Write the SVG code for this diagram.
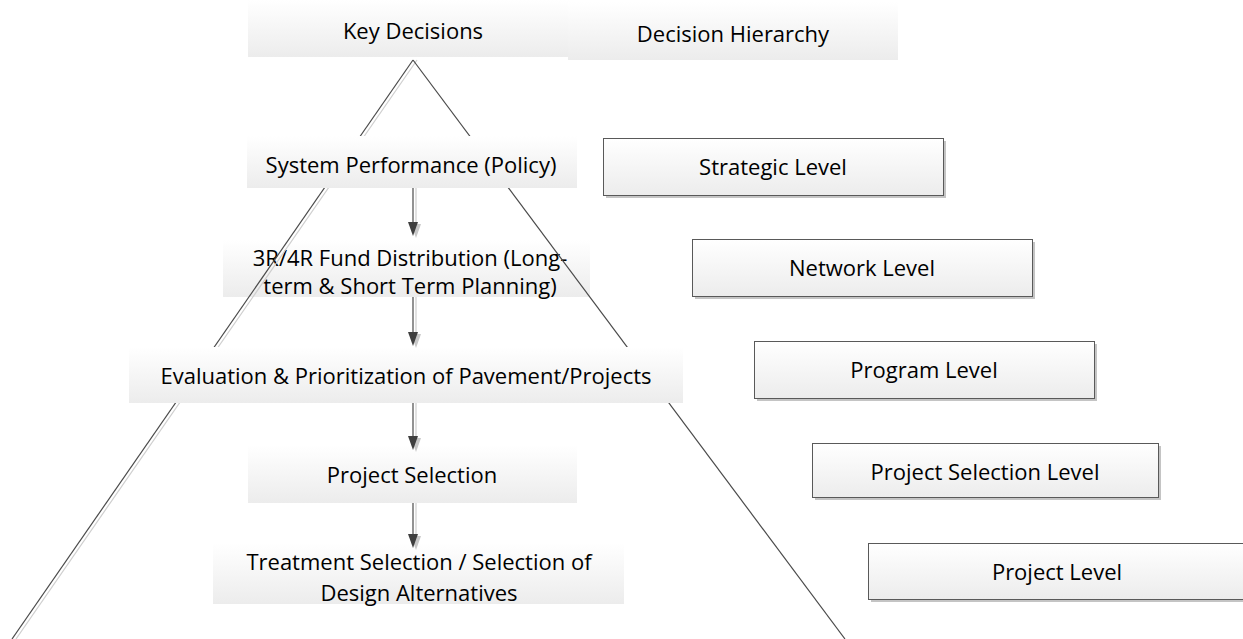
<svg xmlns="http://www.w3.org/2000/svg" width="1243" height="639" viewBox="0 0 1243 639">
<defs>
<linearGradient id="g" x1="0" y1="0" x2="0" y2="1">
<stop offset="0" stop-color="#ffffff"/>
<stop offset="1" stop-color="#ececec"/>
</linearGradient>
</defs>
<style>
.pb{fill:url(#g);stroke:none}
.lb{fill:url(#g);stroke:#595959;stroke-width:1}
.sh{fill:#c4c4c4;stroke:none}
.t{font-family:"Open Sans","Liberation Sans",sans-serif;font-size:22px;fill:#000;text-anchor:middle}
.ln{stroke:#4a4a4a;stroke-width:1.2;fill:none}
.lns{stroke:#cfcfcf;stroke-width:1.2;fill:none}
.ah{fill:#3f3f3f}
.ahs{fill:#c8c8c8}
</style>
<g id="key-decisions"><rect class="pb" x="248" y="0" width="322" height="57"/><text class="t" x="413" y="39">Key Decisions</text></g>
<g id="decision-hierarchy"><rect class="pb" x="568" y="2" width="330" height="58"/><text class="t" x="733" y="42">Decision Hierarchy</text></g>
<g id="funds"><rect class="pb" x="223" y="240" width="367" height="57"/><text class="t" x="410" y="266">3R/4R Fund Distribution (Long-</text><text class="t" x="410" y="294">term &amp; Short Term Planning)</text></g>
<g id="pyramid">
<line class="lns" x1="417" y1="60" x2="16" y2="639"/>
<line class="ln" x1="413" y1="60" x2="12" y2="639"/>
<line class="ln" x1="413" y1="60" x2="845" y2="639"/>
</g>
<g id="system-performance"><rect class="pb" x="247" y="136" width="330" height="52"/><text class="t" x="411" y="173">System Performance (Policy)</text></g>
<g id="evaluation"><rect class="pb" x="129" y="347" width="554" height="56"/><text class="t" x="406" y="384">Evaluation &amp; Prioritization of Pavement/Projects</text></g>
<g id="project-selection"><rect class="pb" x="248" y="445" width="329" height="58"/><text class="t" x="412" y="483">Project Selection</text></g>
<g id="treatment"><rect class="pb" x="213" y="543" width="411" height="61"/><text class="t" x="419" y="570">Treatment Selection / Selection of</text><text class="t" x="419" y="601">Design Alternatives</text></g>
<g id="strategic-level"><rect class="sh" x="606" y="141" width="340" height="57"/><rect class="lb" x="603.5" y="138.5" width="340" height="57"/><text class="t" x="773" y="175">Strategic Level</text></g>
<g id="network-level"><rect class="sh" x="695" y="242" width="340" height="57"/><rect class="lb" x="692.5" y="239.5" width="340" height="57"/><text class="t" x="862" y="276">Network Level</text></g>
<g id="program-level"><rect class="sh" x="757" y="344" width="340" height="57"/><rect class="lb" x="754.5" y="341.5" width="340" height="57"/><text class="t" x="924" y="378">Program Level</text></g>
<g id="project-selection-level"><rect class="sh" x="815" y="446" width="346" height="54"/><rect class="lb" x="812.5" y="443.5" width="346" height="54"/><text class="t" x="985" y="480">Project Selection Level</text></g>
<g id="project-level"><rect class="sh" x="871" y="546" width="372" height="56"/><rect class="lb" x="868.5" y="543.5" width="380" height="56"/><text class="t" x="1057" y="580">Project Level</text></g>
<g id="connectors">
<line class="lns" x1="416" y1="188" x2="416" y2="226"/><path class="ahs" d="M411,224 L421,224 L416,238 Z"/>
<line class="ln" x1="413" y1="188" x2="413" y2="224"/><path class="ah" d="M408,222 L418,222 L413,236 Z"/>
<line class="lns" x1="416" y1="297" x2="416" y2="336"/><path class="ahs" d="M411,334 L421,334 L416,348 Z"/>
<line class="ln" x1="413" y1="297" x2="413" y2="334"/><path class="ah" d="M408,332 L418,332 L413,346 Z"/>
<line class="lns" x1="416" y1="403" x2="416" y2="440"/><path class="ahs" d="M411,438 L421,438 L416,452 Z"/>
<line class="ln" x1="413" y1="403" x2="413" y2="438"/><path class="ah" d="M408,436 L418,436 L413,450 Z"/>
<line class="lns" x1="416" y1="503" x2="416" y2="538"/><path class="ahs" d="M411,536 L421,536 L416,550 Z"/>
<line class="ln" x1="413" y1="503" x2="413" y2="536"/><path class="ah" d="M408,534 L418,534 L413,548 Z"/>
</g>
</svg>
